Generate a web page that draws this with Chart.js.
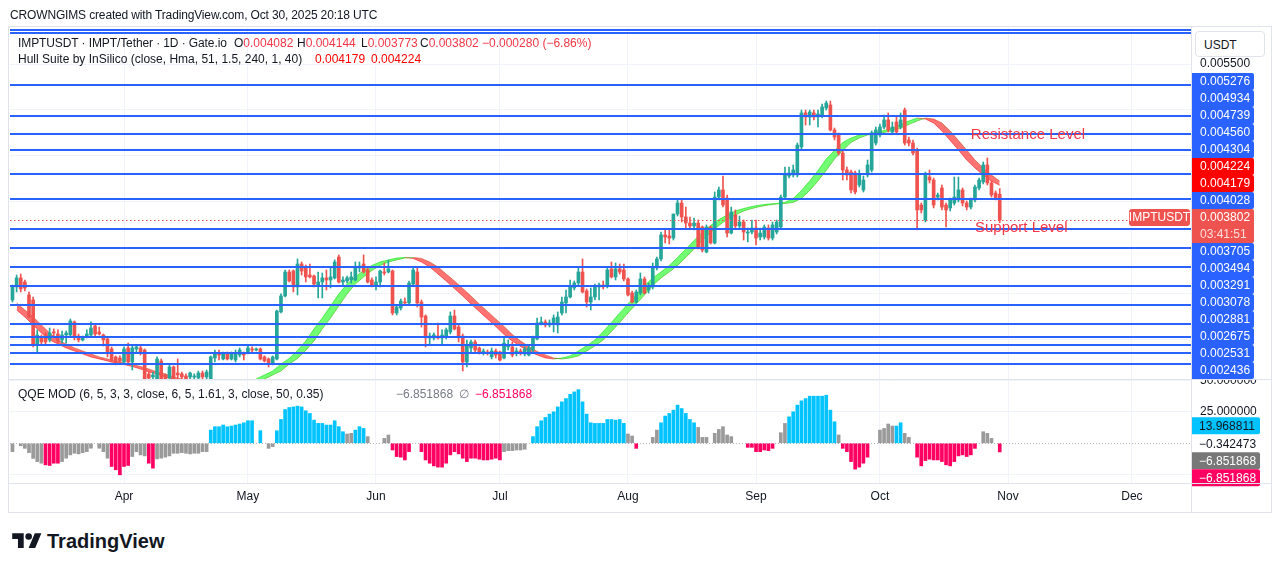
<!DOCTYPE html>
<html>
<head>
<meta charset="utf-8">
<title>IMPTUSDT 1D</title>
<script src="https://cdn.jsdelivr.net/npm/chart.js@4.4.1/dist/chart.umd.min.js"></script>
<style>
  html, body { margin: 0; padding: 0; background: #fff; }
  body { width: 1281px; height: 571px; position: relative; overflow: hidden;
         font-family: 'Liberation Sans', Arial, sans-serif; color: #131722; }
  canvas { position: absolute; left: 0; }
  .txt { position: absolute; white-space: pre; font-size: 12px; line-height: 14px; }
  .red { color: #f23645; }
  .hull { color: #ff0000; }
  .grey { color: #787b86; }
  .pink { color: #ff0062; }
  .sep { position: absolute; background: #e0e3eb; }
</style>
</head>
<body>
<canvas id="priceCanvas" width="1281" height="379" style="top:0"></canvas>
<canvas id="qqeCanvas" width="1281" height="134" style="top:379px"></canvas>

<div class="txt" style="left:10px;top:8px;letter-spacing:-0.15px">CROWNGIMS created with TradingView.com, Oct 30, 2025 20:18 UTC</div>

<!-- frame -->
<div class="sep" style="left:8px;top:26px;width:1264px;height:1px"></div>
<div class="sep" style="left:8px;top:512px;width:1264px;height:1px"></div>
<div class="sep" style="left:8px;top:26px;width:1px;height:487px"></div>
<div class="sep" style="left:1271px;top:26px;width:1px;height:487px"></div>
<div class="sep" style="left:1191px;top:26px;width:1px;height:487px"></div>
<div class="sep" style="left:8px;top:379px;width:1264px;height:1px"></div>
<div class="sep" style="left:8px;top:483px;width:1264px;height:1px"></div>

<!-- legends -->
<div class="txt" style="left:18px;top:36px;letter-spacing:-0.1px">IMPTUSDT · IMPT/Tether · 1D · Gate.io</div>
<div class="txt" style="left:234px;top:36px">O<span class="red">0.004082</span></div>
<div class="txt" style="left:297px;top:36px">H<span class="red">0.004144</span></div>
<div class="txt" style="left:361px;top:36px">L<span class="red">0.003773</span></div>
<div class="txt" style="left:420px;top:36px">C<span class="red">0.003802</span></div>
<div class="txt red" style="left:482px;top:36px">−0.000280 (−6.86%)</div>
<div class="txt" style="left:18px;top:52px">Hull Suite by InSilico (close, Hma, 51, 1.5, 240, 1, 40)</div>
<div class="txt hull" style="left:315px;top:52px">0.004179</div>
<div class="txt hull" style="left:371px;top:52px">0.004224</div>

<div class="txt" style="left:18px;top:387px">QQE MOD (6, 5, 3, 3, close, 6, 5, 1.61, 3, close, 50, 0.35)</div>
<div class="txt grey" style="left:396px;top:387px">−6.851868</div>
<div class="txt grey" style="left:459px;top:387px">∅</div>
<div class="txt pink" style="left:475px;top:387px">−6.851868</div>

<div class="txt" style="left:1195px;top:31px;width:70px;height:26px;border:1px solid #e0e3eb;border-radius:4px;background:#fff;line-height:26px;box-sizing:border-box;padding-left:8px">USDT</div>

<!-- TradingView logo -->
<svg style="position:absolute;left:12px;top:530px" width="30" height="23" viewBox="0 0 36 28">
  <path d="M14 22H7V11H0V4h14v18zM28 22h-8l7.5-18h8L28 22z" fill="#131722"/>
  <circle cx="20" cy="8" r="4" fill="#131722"/>
</svg>
<div class="txt" style="left:47px;top:530px;font-size:20px;line-height:22px;font-weight:bold">TradingView</div>

<script>
// ---------- data (daily candles, IMPT/USDT, Gate.io) ----------
const firstCandle = '2025-03-05';
const monthStarts = ['2025-04-01', '2025-05-01', '2025-06-01', '2025-07-01', '2025-08-01',
                     '2025-09-01', '2025-10-01', '2025-11-01', '2025-12-01'];
const monthNames = ['Apr', 'May', 'Jun', 'Jul', 'Aug', 'Sep', 'Oct', 'Nov', 'Dec'];
const priceTicks = [0.0025, 0.003, 0.0035, 0.004, 0.0045, 0.005, 0.0055];
const qqeTicks = [-25, 0, 25, 50];

const open = [
  0.002931,0.003073,0.003171,0.003127,0.002986,0.002931,0.002441,0.002528,0.002550,0.002496,
  0.002583,0.002561,0.002496,0.002550,0.002550,0.002692,0.002539,0.002496,0.002528,0.002550,
  0.002648,0.002583,0.002550,0.002507,0.002398,0.002311,0.002300,0.002256,0.002409,0.002256,
  0.002398,0.002409,0.002387,0.002126,0.002093,0.002060,0.002267,0.002115,0.002082,0.002202,
  0.002136,0.002126,0.002104,0.002093,0.002093,0.002082,0.002136,0.002093,0.002071,0.002300,
  0.002354,0.002289,0.002354,0.002289,0.002278,0.002332,0.002354,0.002354,0.002398,0.002387,
  0.002398,0.002311,0.002289,0.002234,0.002289,0.002801,0.002975,0.003236,0.003247,0.003073,
  0.003323,0.003280,0.003203,0.003192,0.003094,0.003127,0.003171,0.003149,0.003171,0.003399,
  0.003127,0.003138,0.003149,0.003149,0.003280,0.003323,0.003258,0.003149,0.003094,0.003127,
  0.003236,0.003236,0.003247,0.002790,0.002844,0.002909,0.002899,0.003105,0.003236,0.002909,
  0.002757,0.002518,0.002518,0.002539,0.002518,0.002528,0.002583,0.002757,0.002637,0.002539,
  0.002256,0.002409,0.002474,0.002409,0.002354,0.002365,0.002311,0.002376,0.002365,0.002300,
  0.002420,0.002420,0.002354,0.002376,0.002343,0.002332,0.002387,0.002507,0.002681,0.002692,
  0.002659,0.002681,0.002659,0.002790,0.002899,0.002964,0.003062,0.003116,0.003236,0.003029,
  0.002909,0.002964,0.003073,0.003094,0.003084,0.003269,0.003182,0.003269,0.003258,0.003160,
  0.003007,0.002909,0.003007,0.003160,0.003040,0.003073,0.003280,0.003378,0.003639,0.003628,
  0.003606,0.003867,0.003987,0.003835,0.003769,0.003737,0.003769,0.003726,0.003454,0.003726,
  0.003552,0.004052,0.004129,0.004041,0.003660,0.003856,0.003737,0.003780,0.003660,0.003671,
  0.003715,0.003617,0.003617,0.003715,0.003606,0.003671,0.003726,0.004052,0.004281,0.004292,
  0.004292,0.004597,0.004967,0.004923,0.004967,0.004923,0.004945,0.005021,0.005054,0.004782,
  0.004727,0.004531,0.004346,0.004324,0.004314,0.004183,0.004129,0.004292,0.004346,0.004640,
  0.004727,0.004814,0.004891,0.004760,0.004869,0.004814,0.004999,0.004673,0.004640,0.004564,
  0.003965,0.003802,0.004270,0.004237,0.004052,0.004150,0.003965,0.003933,0.003987,0.004020,
  0.004129,0.003987,0.003943,0.004020,0.004150,0.004216,0.004401,0.004205,0.004096,0.004082
];
const high = [
  0.003094,0.003203,0.003214,0.003149,0.003018,0.002964,0.002605,0.002550,0.002572,0.002626,
  0.002616,0.002605,0.002594,0.002594,0.002724,0.002703,0.002561,0.002539,0.002605,0.002692,
  0.002659,0.002637,0.002561,0.002518,0.002420,0.002322,0.002322,0.002420,0.002463,0.002430,
  0.002441,0.002430,0.002398,0.002147,0.002147,0.002311,0.002289,0.002126,0.002224,0.002213,
  0.002289,0.002147,0.002126,0.002147,0.002126,0.002158,0.002158,0.002169,0.002322,0.002387,
  0.002387,0.002365,0.002365,0.002365,0.002387,0.002409,0.002365,0.002430,0.002420,0.002409,
  0.002409,0.002322,0.002300,0.002322,0.002822,0.002997,0.003258,0.003258,0.003258,0.003378,
  0.003345,0.003312,0.003323,0.003203,0.003236,0.003225,0.003258,0.003280,0.003367,0.003421,
  0.003182,0.003192,0.003236,0.003345,0.003345,0.003421,0.003280,0.003171,0.003182,0.003258,
  0.003334,0.003367,0.003258,0.002877,0.002942,0.002953,0.003138,0.003290,0.003290,0.002931,
  0.002768,0.002572,0.002572,0.002681,0.002605,0.002626,0.002801,0.002822,0.002659,0.002561,
  0.002496,0.002496,0.002496,0.002420,0.002398,0.002387,0.002409,0.002398,0.002376,0.002518,
  0.002496,0.002474,0.002409,0.002398,0.002420,0.002430,0.002539,0.002735,0.002746,0.002714,
  0.002714,0.002768,0.002801,0.002964,0.003040,0.003149,0.003138,0.003290,0.003378,0.003051,
  0.003062,0.003105,0.003116,0.003138,0.003290,0.003345,0.003334,0.003323,0.003323,0.003171,
  0.003029,0.003040,0.003225,0.003182,0.003116,0.003334,0.003399,0.003671,0.003693,0.003693,
  0.003867,0.004031,0.004020,0.003943,0.003835,0.003824,0.003802,0.003737,0.003748,0.003737,
  0.004107,0.004161,0.004281,0.004074,0.003943,0.003911,0.003845,0.003802,0.003715,0.003802,
  0.003802,0.003715,0.003748,0.003748,0.003780,0.003802,0.004074,0.004379,0.004379,0.004401,
  0.004640,0.004999,0.004999,0.004999,0.004999,0.004999,0.005065,0.005097,0.005097,0.004803,
  0.004749,0.004553,0.004379,0.004346,0.004335,0.004346,0.004281,0.004455,0.004771,0.004814,
  0.004847,0.004945,0.004967,0.004869,0.004923,0.004967,0.005021,0.004705,0.004673,0.004586,
  0.003987,0.004324,0.004346,0.004259,0.004096,0.004183,0.003987,0.004041,0.004270,0.004270,
  0.004150,0.004009,0.004041,0.004183,0.004259,0.004433,0.004477,0.004226,0.004118,0.004144
];
const low = [
  0.002909,0.003018,0.003018,0.003029,0.002735,0.002420,0.002354,0.002452,0.002452,0.002474,
  0.002539,0.002463,0.002463,0.002463,0.002539,0.002496,0.002474,0.002485,0.002518,0.002539,
  0.002539,0.002550,0.002430,0.002311,0.002256,0.002224,0.002245,0.002245,0.002224,0.002169,
  0.002354,0.002332,0.002017,0.002028,0.002060,0.002038,0.002017,0.002038,0.002060,0.002049,
  0.002082,0.002060,0.002038,0.002071,0.002071,0.002060,0.002071,0.002071,0.002060,0.002256,
  0.002278,0.002278,0.002278,0.002278,0.002256,0.002311,0.002278,0.002343,0.002365,0.002376,
  0.002278,0.002256,0.002202,0.002224,0.002278,0.002790,0.002964,0.003127,0.003018,0.002986,
  0.003203,0.003127,0.003171,0.003073,0.002953,0.002953,0.003040,0.003062,0.003160,0.003116,
  0.003094,0.003116,0.003116,0.003138,0.003236,0.003225,0.003116,0.003073,0.003040,0.003073,
  0.003203,0.003225,0.002768,0.002768,0.002822,0.002888,0.002888,0.003094,0.002855,0.002637,
  0.002420,0.002441,0.002496,0.002507,0.002441,0.002507,0.002561,0.002605,0.002474,0.002158,
  0.002202,0.002365,0.002365,0.002343,0.002332,0.002332,0.002289,0.002300,0.002267,0.002289,
  0.002387,0.002311,0.002322,0.002332,0.002322,0.002322,0.002365,0.002496,0.002659,0.002637,
  0.002637,0.002583,0.002572,0.002768,0.002790,0.002953,0.003040,0.003094,0.003007,0.002855,
  0.002822,0.002931,0.002931,0.003051,0.003062,0.003171,0.003149,0.003214,0.003138,0.002975,
  0.002899,0.002899,0.002986,0.002997,0.003007,0.003051,0.003258,0.003356,0.003552,0.003541,
  0.003584,0.003845,0.003780,0.003715,0.003715,0.003693,0.003486,0.003454,0.003443,0.003541,
  0.003541,0.004020,0.003943,0.003617,0.003650,0.003715,0.003715,0.003584,0.003563,0.003650,
  0.003530,0.003584,0.003595,0.003584,0.003584,0.003650,0.003704,0.004031,0.004259,0.004270,
  0.004270,0.004575,0.004836,0.004836,0.004891,0.004814,0.004912,0.004999,0.004771,0.004673,
  0.004509,0.004237,0.004237,0.004096,0.004085,0.004161,0.004107,0.004270,0.004324,0.004618,
  0.004705,0.004793,0.004760,0.004738,0.004738,0.004793,0.004618,0.004608,0.004509,0.003693,
  0.003878,0.003780,0.004205,0.003933,0.004020,0.003911,0.003726,0.003900,0.003965,0.003998,
  0.003954,0.003911,0.003922,0.003998,0.004129,0.004194,0.004183,0.004052,0.004020,0.003773
];
const close = [
  0.003073,0.003171,0.003051,0.003062,0.002746,0.002441,0.002550,0.002474,0.002474,0.002572,
  0.002572,0.002485,0.002550,0.002572,0.002703,0.002528,0.002496,0.002528,0.002561,0.002626,
  0.002561,0.002561,0.002496,0.002365,0.002278,0.002256,0.002267,0.002398,0.002256,0.002409,
  0.002420,0.002365,0.002060,0.002082,0.002115,0.002289,0.002060,0.002071,0.002202,0.002082,
  0.002115,0.002093,0.002071,0.002136,0.002104,0.002136,0.002093,0.002147,0.002311,0.002354,
  0.002332,0.002354,0.002289,0.002354,0.002343,0.002387,0.002332,0.002409,0.002387,0.002398,
  0.002289,0.002267,0.002234,0.002311,0.002811,0.002975,0.003236,0.003138,0.003073,0.003323,
  0.003247,0.003182,0.003182,0.003105,0.003127,0.003171,0.003149,0.003182,0.003345,0.003127,
  0.003149,0.003171,0.003182,0.003290,0.003301,0.003236,0.003127,0.003094,0.003127,0.003247,
  0.003225,0.003269,0.002790,0.002855,0.002920,0.002899,0.003116,0.003258,0.002899,0.002746,
  0.002518,0.002539,0.002550,0.002518,0.002550,0.002605,0.002757,0.002616,0.002528,0.002256,
  0.002430,0.002474,0.002387,0.002365,0.002376,0.002354,0.002376,0.002332,0.002278,0.002463,
  0.002441,0.002332,0.002376,0.002354,0.002398,0.002409,0.002528,0.002681,0.002692,0.002659,
  0.002681,0.002735,0.002746,0.002909,0.002964,0.003073,0.003116,0.003236,0.003018,0.002909,
  0.002964,0.003084,0.003094,0.003073,0.003258,0.003182,0.003269,0.003236,0.003160,0.002986,
  0.002909,0.003018,0.003160,0.003007,0.003073,0.003290,0.003378,0.003639,0.003617,0.003606,
  0.003867,0.003987,0.003835,0.003769,0.003737,0.003769,0.003497,0.003475,0.003726,0.003552,
  0.004052,0.004129,0.003965,0.003660,0.003889,0.003737,0.003780,0.003671,0.003671,0.003715,
  0.003606,0.003660,0.003726,0.003606,0.003748,0.003780,0.004052,0.004292,0.004314,0.004346,
  0.004618,0.004967,0.004923,0.004978,0.004923,0.004956,0.005032,0.005075,0.004782,0.004705,
  0.004531,0.004346,0.004292,0.004129,0.004107,0.004292,0.004237,0.004401,0.004749,0.004782,
  0.004814,0.004891,0.004782,0.004814,0.004760,0.004891,0.004640,0.004640,0.004531,0.003911,
  0.003911,0.004292,0.004237,0.003965,0.004074,0.003943,0.003911,0.004020,0.004052,0.004129,
  0.003987,0.003943,0.004020,0.004161,0.004237,0.004401,0.004205,0.004074,0.004041,0.003802
];

// Hull Suite (HMA 51), read every second day starting 2025-03-04
const hullStart = '2025-03-04';
const hull = [
  0.002899,0.002822,0.002746,0.002659,0.002572,0.002496,0.002452,0.002409,0.002376,0.002343,
  0.002311,0.002289,0.002267,0.002245,0.002229,0.002207,0.002180,0.002148,0.002126,0.002093,
  0.002071,0.002050,0.002017,0.001995,0.001979,0.001968,0.001962,0.001962,0.001973,0.002011,
  0.002071,0.002115,0.002158,0.002235,0.002294,0.002382,0.002485,0.002616,0.002735,0.002866,
  0.002997,0.003105,0.003182,0.003252,0.003307,0.003345,0.003367,0.003388,0.003394,0.003383,
  0.003345,0.003290,0.003214,0.003138,0.003056,0.002975,0.002888,0.002806,0.002724,0.002643,
  0.002556,0.002485,0.002425,0.002371,0.002333,0.002300,0.002289,0.002300,0.002322,0.002376,
  0.002431,0.002496,0.002588,0.002686,0.002790,0.002888,0.002986,0.003089,0.003171,0.003236,
  0.003307,0.003394,0.003486,0.003579,0.003666,0.003742,0.003807,0.003856,0.003900,0.003927,
  0.003949,0.003965,0.003976,0.003982,0.003993,0.004036,0.004123,0.004227,0.004341,0.004466,
  0.004559,0.004646,0.004695,0.004727,0.004744,0.004754,0.004776,0.004803,0.004842,0.004880,
  0.004912,0.004901,0.004858,0.004771,0.004667,0.004564,0.004455,0.004368,0.004292,0.004224,
  0.004179
];

// QQE MOD histogram, one bar per candle (null = no bar)
const qqe = [
  -6.6, null, -2.0, -4.0, -7.4, -12.0, -14.5, -15.8, -17.1, -17.6,
  -15.8, -15.8, -14.5, -11.8, -9.2, -7.9, -8.4, -7.4, -6.6, -3.9,
  null, -3.9, -6.6, -11.8, -18.4, -21.0, -25.0, -18.4, -17.6, -10.5,
  -6.6, -9.2, -10.0, -15.8, -19.7, -12.4, -11.8, -11.0, -10.0, -7.9,
  -7.9, -7.4, -7.9, -8.4, -7.9, -7.9, -6.6, -6.6, 10.5, 13.2,
  13.2, 14.5, 13.2, 13.7, 14.5, 15.3, 16.3, 17.9, 17.9, null,
  10.0, null, -4.0, -2.6, 10.0, 18.9, 26.8, 28.4, 28.9, 29.5,
  28.9, 25.8, 23.7, 18.4, 15.8, 15.8, 14.5, 14.5, 17.9, 13.2,
  9.2, 7.4, 7.9, 10.5, 13.2, 11.8, 5.3, null, null, null,
  3.9, 6.6, -5.3, -10.5, -11.0, -13.2, -6.6, null, null, -6.6,
  -13.2, -15.8, -17.9, -18.9, -18.9, -15.8, -9.2, -6.6, -8.4, -11.8,
  -14.5, -11.8, -11.8, -12.6, -13.2, -13.2, -12.6, -11.8, -13.2, -6.6,
  -5.8, -5.8, -5.3, -5.3, -4.7, null, 5.3, 13.2, 17.9, 20.5,
  23.2, 25.0, 28.9, 32.9, 35.5, 38.9, 40.8, 42.6, 32.9, 23.2,
  16.3, 15.8, 15.8, 15.8, 18.9, 18.9, 18.4, 18.9, 15.8, 7.4,
  5.8, -4.0, null, null, null, 4.7, 10.5, 16.3, 21.6, 23.7,
  26.3, 30.3, 27.6, 23.7, 18.9, 16.3, 12.6, 4.7, 4.7, null,
  7.9, 11.0, 13.2, 6.6, 5.3, null, null, null, -3.2, -3.2,
  -6.6, -6.6, -5.3, -5.8, -4.0, null, 8.4, 15.8, 21.0, 25.0,
  30.3, 33.7, 35.5, 37.4, 37.4, 37.4, 37.4, 38.2, 26.3, 17.1,
  6.6, -4.0, -6.6, -14.5, -20.5, -18.9, -15.8, -11.0, null, null,
  10.5, 11.8, 15.3, 13.7, 13.7, 16.3, 7.9, 4.7, null, -11.0,
  -17.9, -13.7, -12.6, -13.2, -13.2, -14.5, -17.1, -17.9, -14.5, -10.0,
  -9.2, -10.5, -9.2, -4.0, null, 9.2, 7.9, 3.9, null, -6.851868
];
// bar state: c = strong up, m = strong down, g = neutral
const qqeState =
  'ggggggggmm' + 'mmgggggggg' + 'ggggmmmmmg' + 'gggmmggggg' + 'ggggggggcc' +
  'cccccccccc' + 'cgggcccccc' + 'cccccccccc' + 'cggcccgggg' + 'ggmmmmmmmm' +
  'mmmmmmmmmm' + 'mmmmmmmmmg' + 'ggggggcccc' + 'cccccccccc' + 'cccccccccg' +
  'gmgggggccc' + 'ccccccgggg' + 'ggggggggmm' + 'mmmmmgggcc' + 'cccccccccc' +
  'gmmmmmmmgg' + 'ggggccgggm' + 'mmmmmmmmmm' + 'mmmmgggggm';

// horizontal levels drawn on the chart
const levels = [0.005276, 0.004934, 0.004739, 0.004560, 0.004304, 0.004028, 0.003705,
                0.003494, 0.003291, 0.003078, 0.002881, 0.002675, 0.002531, 0.002436];
const unlabelledLevels = [0.005871, 0.005839, 0.002354, 0.002234];
const hullLast = [0.004224, 0.004179];
const lastClose = 0.003802;
const countdown = '03:41:51';
const qqeMarkValues = [13.968811, -0.342473, -6.851868, -6.851868];
const notes = [
  { text: 'Resistance Level', date: '2025-10-23', price: 0.00473 },
  { text: 'Support Level', date: '2025-10-24', price: 0.003715 }
];

// ---------- helpers ----------
const dayNo = s => Math.round((Date.parse(s) - Date.parse('2025-01-01')) / 864e5);
const days = open.map((_, i) => dayNo(firstCandle) + i);
const monthDays = monthStarts.map(dayNo);
const hullDays = hull.map((_, k) => dayNo(hullStart) + 2 * k);
const minus = v => (v < 0 ? '\u2212' : '') + Math.abs(v).toFixed(6);

const UP = '#26a69a', DOWN = '#ef5350', GRID = '#f0f3fa';
const FONT = '"Liberation Sans", Arial, sans-serif';
Chart.defaults.font.family = FONT;
Chart.defaults.font.size = 12;
Chart.defaults.color = '#131722';

const candleColor = c => close[c.dataIndex] >= open[c.dataIndex] ? UP : DOWN;
const bodies = open.map((o, i) => ({ x: days[i], y: [o, close[i]] }));
const wicks = low.map((l, i) => ({ x: days[i], y: [l, high[i]] }));
// Hull Suite band: HMA and HMA two bars back
const hullFast = hull.slice(1).map((v, k) => ({ x: hullDays[k + 1], y: v }));
const hullSlow = hull.slice(0, -1).map((v, k) => ({ x: hullDays[k + 1], y: v }));
const hullEdge = s => s.p1.parsed.y >= s.p0.parsed.y ? 'rgba(0,220,0,0.55)' : 'rgba(240,0,0,0.5)';

const xAxis = showLabels => ({
  type: 'linear', min: 62.4, max: 348.3, offset: false,
  afterBuildTicks: s => { s.ticks = monthDays.map(v => ({ value: v })); },
  afterFit: s => { s.height = showLabels ? 30 : 0; s.paddingLeft = 0; s.paddingRight = 0; },
  grid: { color: GRID, drawTicks: false, offset: false },
  border: { display: false },
  ticks: { display: showLabels, autoSkip: false, maxRotation: 0, padding: 6,
           callback: v => monthNames[monthDays.indexOf(v)] }
});

// push overlapping axis tags down, then back up from the pane bottom
function stack(items, limit) {
  items.sort((a, b) => a.y - b.y);
  let prev = -Infinity;
  for (const it of items) { it.top = Math.max(it.y - 8.5, prev); prev = it.top + it.h; }
  for (let k = items.length - 1; k >= 0; k--) {
    const it = items[k];
    if (it.top + it.h > limit) it.top = limit - it.h;
    limit = it.top;
  }
}

const priceDecor = {
  id: 'priceDecor',
  afterDatasetsDraw(chart) {
    const { ctx, chartArea: a, scales: { x, y } } = chart;
    ctx.save();
    ctx.beginPath(); ctx.rect(a.left, a.top, a.right - a.left, a.bottom - a.top); ctx.clip();
    ctx.strokeStyle = '#2962ff'; ctx.lineWidth = 2;
    for (const v of levels.concat(unlabelledLevels)) {
      const py = Math.round(y.getPixelForValue(v));
      ctx.beginPath(); ctx.moveTo(a.left, py); ctx.lineTo(a.right, py); ctx.stroke();
    }
    const py = Math.round(y.getPixelForValue(lastClose)) + 0.5;
    ctx.strokeStyle = '#ef5350'; ctx.lineWidth = 1; ctx.setLineDash([1.5, 2.5]);
    ctx.beginPath(); ctx.moveTo(a.left, py); ctx.lineTo(a.right - 62, py); ctx.stroke();
    ctx.setLineDash([]);
    ctx.font = '15px ' + FONT; ctx.fillStyle = '#f23645'; ctx.textBaseline = 'middle';
    for (const n of notes) ctx.fillText(n.text, x.getPixelForValue(dayNo(n.date)), y.getPixelForValue(n.price));
    ctx.restore();
  },
  afterDraw(chart) {
    const { ctx, chartArea: a, scales: { y } } = chart;
    const items = [
      ...levels.map(v => ({ v, bg: '#2962ff', lines: [v.toFixed(6)] })),
      ...hullLast.map(v => ({ v, bg: '#ff0000', lines: [v.toFixed(6)] })),
      { v: lastClose, bg: '#ef5350', lines: [lastClose.toFixed(6), countdown], last: true }
    ].map(it => ({ ...it, y: y.getPixelForValue(it.v), h: 17 * it.lines.length }));
    stack(items, a.bottom);
    ctx.save();
    ctx.font = '12px ' + FONT; ctx.textBaseline = 'middle';
    for (const it of items) {
      ctx.fillStyle = it.bg;
      ctx.beginPath(); ctx.roundRect(a.right + 1, it.top, 62, it.h, [0, 2, 2, 0]); ctx.fill();
      it.lines.forEach((t, k) => {
        ctx.fillStyle = k ? 'rgba(255,255,255,0.8)' : '#fff';
        ctx.fillText(t, a.right + 9, it.top + 9 + 17 * k);
      });
      if (it.last) {
        ctx.fillStyle = it.bg;
        ctx.beginPath(); ctx.roundRect(a.right - 62, it.top, 61, 17, 3); ctx.fill();
        ctx.fillStyle = '#fff'; ctx.textAlign = 'center';
        ctx.fillText('IMPTUSDT', a.right - 31.5, it.top + 9);
        ctx.textAlign = 'left';
      }
    }
    ctx.restore();
  }
};

const qqeDecor = {
  id: 'qqeDecor',
  beforeDatasetsDraw(chart) {
    const { ctx, chartArea: a, scales: { y } } = chart;
    const py = Math.round(y.getPixelForValue(0)) + 0.5;
    ctx.save();
    ctx.strokeStyle = '#b2b5be'; ctx.lineWidth = 1; ctx.setLineDash([1, 2]);
    ctx.beginPath(); ctx.moveTo(a.left, py); ctx.lineTo(a.right, py); ctx.stroke();
    ctx.restore();
  },
  afterDraw(chart) {
    const { ctx, chartArea: a, scales: { y } } = chart;
    const styles = [['#00c3ff', '#131722'], [null, '#131722'], ['#787878', '#fff'], ['#ff0062', '#fff']];
    const items = qqeMarkValues.map((v, k) => ({ v, bg: styles[k][0], fg: styles[k][1], y: y.getPixelForValue(v), h: 17 }));
    stack(items, a.bottom + 3.5);
    ctx.save();
    ctx.font = '12px ' + FONT; ctx.textBaseline = 'middle';
    for (const it of items) {
      if (it.bg) {
        ctx.fillStyle = it.bg;
        ctx.beginPath(); ctx.roundRect(a.right + 1, it.top, 68, it.h, [0, 2, 2, 0]); ctx.fill();
      }
      ctx.fillStyle = it.fg;
      ctx.fillText(minus(it.v), a.right + 8, it.top + 9);
    }
    ctx.restore();
  }
};

// ---------- price pane ----------
new Chart(document.getElementById('priceCanvas'), {
  type: 'bar',
  data: {
    datasets: [
      { type: 'line', label: 'Hull', data: hullFast, order: 3, pointRadius: 0, borderWidth: 1,
        borderColor: 'rgba(0,220,0,0.55)', segment: { borderColor: hullEdge },
        fill: { target: '+1', above: 'rgba(0,255,0,0.55)', below: 'rgba(255,0,0,0.55)' } },
      { type: 'line', label: 'Hull[2]', data: hullSlow, order: 3, pointRadius: 0, borderWidth: 1,
        borderColor: 'rgba(0,220,0,0.55)', segment: { borderColor: hullEdge }, fill: false },
      { label: 'wick', data: wicks, backgroundColor: candleColor, barThickness: 1, grouped: false, order: 1 },
      { label: 'body', data: bodies, backgroundColor: candleColor, barThickness: 3, grouped: false,
        minBarLength: 1, order: 0 }
    ]
  },
  options: {
    responsive: false, animation: false, events: [],
    layout: { padding: { left: 10, top: 28, right: 0, bottom: 0 } },
    plugins: { legend: { display: false }, tooltip: { enabled: false } },
    scales: {
      x: xAxis(false),
      y: {
        position: 'right', min: 0.002071, max: 0.005892,
        afterBuildTicks: s => { s.ticks = priceTicks.map(v => ({ value: v })); },
        afterFit: s => { s.width = 90; s.paddingTop = 0; s.paddingBottom = 0; },
        ticks: { padding: 9, callback: v => v.toFixed(6) },
        grid: { color: GRID, drawTicks: false },
        border: { display: false }
      }
    }
  },
  plugins: [priceDecor]
});

// ---------- QQE MOD pane ----------
const qqeColors = { c: '#00c3ff', m: '#ff0062', g: '#9a9a9a' };
new Chart(document.getElementById('qqeCanvas'), {
  type: 'bar',
  data: {
    datasets: [{
      label: 'QQE MOD', data: qqe.map((v, i) => ({ x: days[i], y: v })),
      backgroundColor: c => qqeColors[qqeState[c.dataIndex]], barThickness: 3
    }]
  },
  options: {
    responsive: false, animation: false, events: [],
    layout: { padding: { left: 10, top: 1, right: 0, bottom: 0 } },
    plugins: { legend: { display: false }, tooltip: { enabled: false } },
    scales: {
      x: xAxis(true),
      y: {
        position: 'right', min: -31.5, max: 50.24,
        afterBuildTicks: s => { s.ticks = qqeTicks.map(v => ({ value: v })); },
        afterFit: s => { s.width = 90; s.paddingTop = 0; s.paddingBottom = 0; },
        ticks: { padding: 9, callback: v => v > 0 ? v.toFixed(6) : '' },
        grid: { color: c => c.tick && c.tick.value === 0 ? 'rgba(0,0,0,0)' : GRID, drawTicks: false },
        border: { display: false }
      }
    }
  },
  plugins: [qqeDecor]
});
</script>
</body>
</html>
